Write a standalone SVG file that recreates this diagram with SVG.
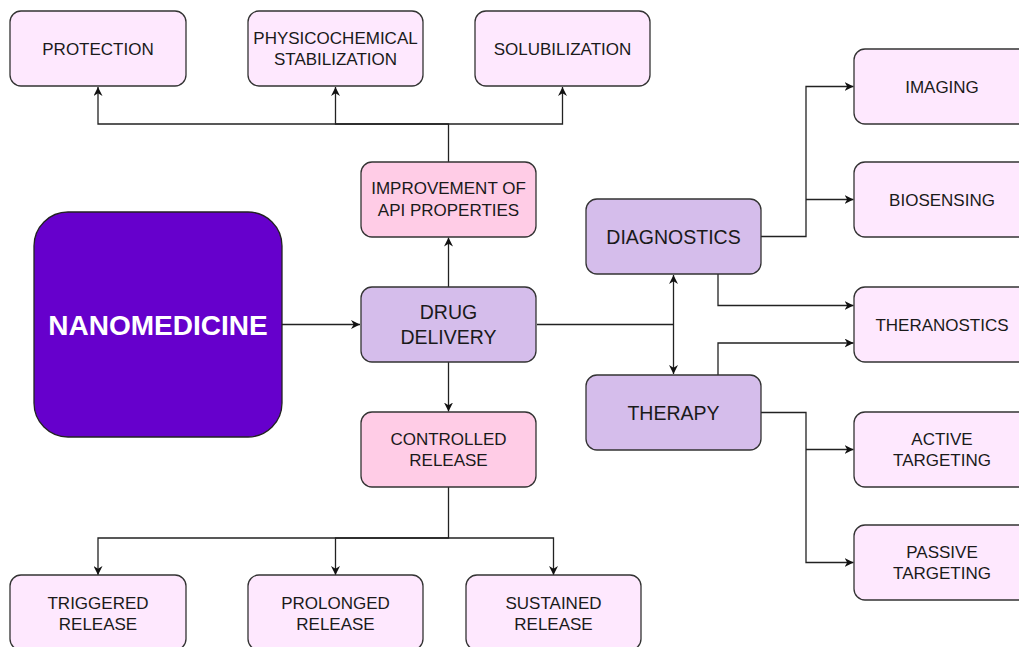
<svg xmlns="http://www.w3.org/2000/svg" width="1019" height="647" viewBox="0 0 1019 647">
<defs>
<style>
.box{stroke:#333333;stroke-width:1.3}
.leaf{fill:#FEE8FE}
.mid{fill:#FFCCE6}
.core{fill:#D5BDEB}
.t{font-family:"Liberation Sans",Arial,Helvetica,sans-serif;font-size:17px;fill:#1a1a1a;text-anchor:middle}
.tl{font-size:19.5px}
.big{font-family:"Liberation Sans",Arial,Helvetica,sans-serif;font-size:28px;font-weight:bold;fill:#ffffff;text-anchor:middle}
.c{fill:none;stroke:#222222;stroke-width:1.3}
</style>
<marker id="arr" viewBox="0 0 10 10" refX="10" refY="5" markerWidth="9" markerHeight="9" markerUnits="userSpaceOnUse" orient="auto-start-reverse">
<path d="M0,0 L10,5 L0,10 L3,5 z" fill="#111111"/>
</marker>
</defs>
<rect width="1019" height="647" fill="#ffffff"/>

<g id="connectors">
<path class="c" d="M282,324.5 H360" marker-end="url(#arr)"/>
<path class="c" d="M448.5,287 V237.5" marker-end="url(#arr)"/>
<path class="c" d="M448.5,162 V124 H98 V87" marker-end="url(#arr)"/>
<path class="c" d="M448.5,124 H335.5 V87" marker-end="url(#arr)"/>
<path class="c" d="M448.5,124 H562.5 V87" marker-end="url(#arr)"/>
<path class="c" d="M448.5,362 V411.5" marker-end="url(#arr)"/>
<path class="c" d="M448.5,487 V538 H98 V575" marker-end="url(#arr)"/>
<path class="c" d="M448.5,538 H335.5 V575" marker-end="url(#arr)"/>
<path class="c" d="M448.5,538 H553.5 V575" marker-end="url(#arr)"/>
<path class="c" d="M537,324.5 H673.5"/>
<path class="c" d="M673.5,275 V374" marker-start="url(#arr)" marker-end="url(#arr)"/>
<path class="c" d="M761,236.5 H806 V86.5 H853.5" marker-end="url(#arr)"/>
<path class="c" d="M806,199.5 H853.5" marker-end="url(#arr)"/>
<path class="c" d="M718,274 V305.5 H853.5" marker-end="url(#arr)"/>
<path class="c" d="M718,375 V343 H853.5" marker-end="url(#arr)"/>
<path class="c" d="M761,412.5 H806 V562.5 H853.5" marker-end="url(#arr)"/>
<path class="c" d="M806,449.5 H853.5" marker-end="url(#arr)"/>
</g>

<g id="protection">
<rect class="box leaf" x="10" y="11" width="176" height="75" rx="11"/>
<text class="t" x="98" y="54.5">PROTECTION</text>
</g>
<g id="physicochemical">
<rect class="box leaf" x="248" y="11" width="175" height="75" rx="11"/>
<text class="t" x="335.5" y="44">PHYSICOCHEMICAL</text>
<text class="t" x="335.5" y="65">STABILIZATION</text>
</g>
<g id="solubilization">
<rect class="box leaf" x="475" y="11" width="175" height="75" rx="11"/>
<text class="t" x="562.5" y="54.5">SOLUBILIZATION</text>
</g>
<g id="improvement">
<rect class="box mid" x="361" y="162" width="175" height="75" rx="11"/>
<text class="t" x="448.5" y="194">IMPROVEMENT OF</text>
<text class="t" x="448.5" y="216">API PROPERTIES</text>
</g>
<g id="nanomedicine">
<rect x="34" y="212" width="248" height="225" rx="34" fill="#6600CC" stroke="#222222" stroke-width="1.3"/>
<text class="big" x="158" y="334.5">NANOMEDICINE</text>
</g>
<g id="drug-delivery">
<rect class="box core" x="361" y="287" width="175" height="75" rx="11"/>
<text class="t tl" x="448.5" y="319">DRUG</text>
<text class="t tl" x="448.5" y="344">DELIVERY</text>
</g>
<g id="controlled-release">
<rect class="box mid" x="361" y="412" width="175" height="75" rx="11"/>
<text class="t" x="448.5" y="445">CONTROLLED</text>
<text class="t" x="448.5" y="466">RELEASE</text>
</g>
<g id="triggered">
<rect class="box leaf" x="10" y="575" width="176" height="75" rx="11"/>
<text class="t" x="98" y="609">TRIGGERED</text>
<text class="t" x="98" y="630">RELEASE</text>
</g>
<g id="prolonged">
<rect class="box leaf" x="248" y="575" width="175" height="75" rx="11"/>
<text class="t" x="335.5" y="609">PROLONGED</text>
<text class="t" x="335.5" y="630">RELEASE</text>
</g>
<g id="sustained">
<rect class="box leaf" x="466" y="575" width="175" height="75" rx="11"/>
<text class="t" x="553.5" y="609">SUSTAINED</text>
<text class="t" x="553.5" y="630">RELEASE</text>
</g>
<g id="diagnostics">
<rect class="box core" x="586" y="199" width="175" height="75" rx="11"/>
<text class="t tl" x="673.5" y="243.5">DIAGNOSTICS</text>
</g>
<g id="therapy">
<rect class="box core" x="586" y="375" width="175" height="75" rx="11"/>
<text class="t tl" x="673.5" y="419.5">THERAPY</text>
</g>
<g id="imaging">
<rect class="box leaf" x="854" y="49" width="176" height="75" rx="11"/>
<text class="t" x="942" y="92.5">IMAGING</text>
</g>
<g id="biosensing">
<rect class="box leaf" x="854" y="162" width="176" height="75" rx="11"/>
<text class="t" x="942" y="205.5">BIOSENSING</text>
</g>
<g id="theranostics">
<rect class="box leaf" x="854" y="287" width="176" height="75" rx="11"/>
<text class="t" x="942" y="330.5">THERANOSTICS</text>
</g>
<g id="active-targeting">
<rect class="box leaf" x="854" y="412" width="176" height="75" rx="11"/>
<text class="t" x="942" y="445">ACTIVE</text>
<text class="t" x="942" y="466">TARGETING</text>
</g>
<g id="passive-targeting">
<rect class="box leaf" x="854" y="525" width="176" height="75" rx="11"/>
<text class="t" x="942" y="558">PASSIVE</text>
<text class="t" x="942" y="579">TARGETING</text>
</g>
</svg>
